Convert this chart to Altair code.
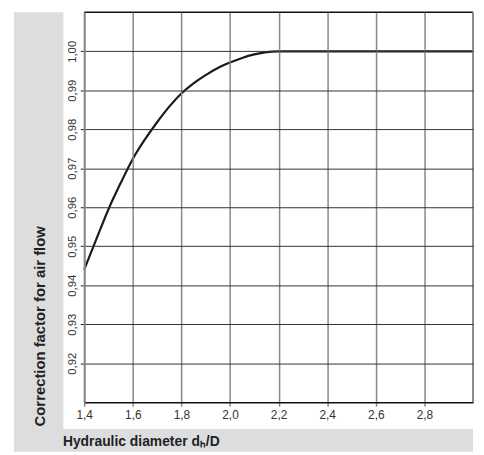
import altair as alt
import pandas as pd

# Data
ratio = [1.40, 1.45, 1.50, 1.55, 1.60, 1.65, 1.70, 1.75, 1.80, 1.85, 1.90, 1.95,
         2.00, 2.05, 2.10, 2.15, 2.20, 2.40, 2.60, 2.80, 3.00]
factor = [0.9440, 0.9518, 0.9595, 0.9662, 0.9724, 0.9774, 0.9818, 0.9858, 0.9892,
          0.9918, 0.9939, 0.9957, 0.9971, 0.9983, 0.9992, 0.9998, 1.0000, 1.0000,
          1.0000, 1.0000, 1.0000]
x_ticks = [1.4, 1.6, 1.8, 2.0, 2.2, 2.4, 2.6, 2.8]
y_ticks = [0.92, 0.93, 0.94, 0.95, 0.96, 0.97, 0.98, 0.99, 1.00]
x_title = "Hydraulic diameter dₕ/D"
y_title = "Correction factor for air flow"

W, H = 393, 394
TITLE_FONT = "Liberation Sans, Arial, sans-serif"
LABEL_FONT = "Liberation Sans, Arial, sans-serif"
GRAY_BG = "#dcdddf"

df = pd.DataFrame({"x": ratio, "y": factor})
dummy = alt.Data(values=[{"a": 1}])

left_band = alt.Chart(dummy).mark_rect(color=GRAY_BG).encode(
    x=alt.value(-71), x2=alt.value(-21), y=alt.value(0), y2=alt.value(421)
)
bottom_band = alt.Chart(dummy).mark_rect(color=GRAY_BG).encode(
    x=alt.value(-71), x2=alt.value(W), y=alt.value(421), y2=alt.value(444)
)

line = alt.Chart(df).mark_line(
    color="#1a1a1a", strokeWidth=2.2, interpolate="monotone"
).encode(
    x=alt.X("x:Q",
            scale=alt.Scale(domain=[1.4, 3.0], nice=False, zero=False),
            axis=alt.Axis(
                values=x_ticks,
                labelExpr="replace(format(datum.value, '.1f'), '.', ',')",
                title=x_title,
                titleFont=TITLE_FONT, titleFontSize=14, titleFontWeight="bold",
                titleColor="#222222",
                titleAnchor="start", titleAlign="left", titleBaseline="alphabetic",
                titleX=-22, titleY=44,
                labelFont=LABEL_FONT, labelFontSize=12, labelColor="#333333",
                labelPadding=4, labelFlush=False,
                tickSize=4, tickColor="#888888", tickWidth=1.5,
                domainColor="#111111", domainWidth=1.5,
                grid=True, gridColor="#888888", gridWidth=1.5, gridOpacity=1,
                zindex=1,
            )),
    y=alt.Y("y:Q",
            scale=alt.Scale(domain=[0.91, 1.01], nice=False, zero=False),
            axis=alt.Axis(
                values=y_ticks,
                labelExpr="replace(format(datum.value, '.2f'), '.', ',')",
                title=y_title,
                titleFont=TITLE_FONT, titleFontSize=15, titleFontWeight="bold",
                titleColor="#222222",
                titleAngle=270, titleAnchor="start", titleAlign="left",
                titleBaseline="alphabetic",
                titleX=-40, titleY=418,
                labelFont=LABEL_FONT, labelFontSize=11.5, labelColor="#333333",
                labelAngle=270, labelAlign="center", labelBaseline="bottom",
                labelPadding=3, labelFlush=False,
                tickSize=4, tickColor="#222222", tickWidth=1,
                domainColor="#8a8a8a", domainWidth=2,
                grid=True, gridColor="#333333", gridWidth=1, gridOpacity=1,
                zindex=1,
            )),
)

top_border = alt.Chart(dummy).mark_rule(color="#111111", strokeWidth=1.5).encode(
    x=alt.value(0), x2=alt.value(W), y=alt.value(0)
)
right_border = alt.Chart(dummy).mark_rule(color="#8a8a8a", strokeWidth=2).encode(
    x=alt.value(W), y=alt.value(0), y2=alt.value(H)
)

chart = alt.layer(left_band, bottom_band, line, top_border, right_border).properties(
    width=W, height=H,
    autosize=alt.AutoSizeParams(type="none"),
    padding={"left": 77, "top": 2, "right": 3, "bottom": 49},
    background="white",
).configure_view(strokeWidth=0)

chart.save("out.html", embed_options={"renderer": "svg", "actions": False})
